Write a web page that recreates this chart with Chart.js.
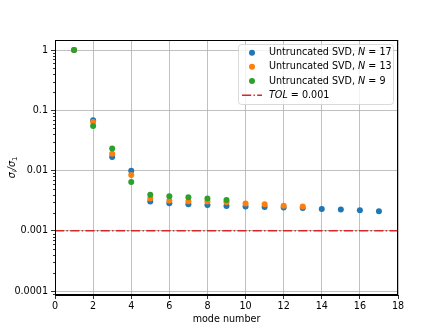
<!DOCTYPE html>
<html><head><meta charset="utf-8">
<script src="https://cdn.jsdelivr.net/npm/chart.js@4"></script>
<style>html,body{margin:0;padding:0;background:#fff}#wrap{width:443px;height:332px}</style>
</head><body><div id="wrap"><canvas id="c" width="443" height="332"></canvas></div>
<script>
const modeNumbers = [1,2,3,4,5,6,7,8,9,10,11,12,13,14,15,16,17];
const svdN17 = [1, 0.068, 0.0168, 0.0099, 0.00305, 0.00286, 0.00275, 0.00269, 0.00259, 0.00252, 0.00249, 0.00243, 0.0024, 0.00231, 0.00225, 0.00219, 0.00211];
const svdN13 = [1, 0.064, 0.019, 0.00845, 0.00342, 0.00317, 0.0031, 0.00305, 0.00297, 0.00283, 0.00275, 0.0026, 0.00252];
const svdN9  = [1, 0.055, 0.0233, 0.00646, 0.00398, 0.00373, 0.0036, 0.00342, 0.00325];
const tolValue = 0.001;
const tolXRange = [0, 18];
const seriesLabels = ['17', '13', '9'];
const yTickValues = [0.0001, 0.001, 0.01, 0.1, 1];
const yTickLabels = ['0.0001', '0.001', '0.01', '0.1', '1'];
const xTickValues = [0,2,4,6,8,10,12,14,16,18];

const COLORS = ['#1f77b4', '#ff7f0e', '#2ca02c'];
const RED = '#d62728';
const FONT = '"DejaVu Sans", sans-serif';
const FS = 9.6;
const DASH = [9.2, 2.3, 1.4, 2.3];

function pts(vals){ return vals.map((v,i)=>({x: modeNumbers[i], y: v})); }

const overlay = {
  id: 'overlay',
  afterDraw(chart){
    const ctx = chart.ctx, a = chart.chartArea, ys = chart.scales.y;
    ctx.save();
    // minor ticks on y
    ctx.strokeStyle = '#000'; ctx.lineWidth = 0.8;
    for (let e = -5; e <= 0; e++) {
      for (let m = 2; m <= 9; m++) {
        const v = m * Math.pow(10, e);
        if (v < ys.min || v > ys.max) continue;
        const y = Math.round(ys.getPixelForValue(v)) + 0.5;
        ctx.beginPath(); ctx.moveTo(a.left - 2, y); ctx.lineTo(a.left, y); ctx.stroke();
      }
    }
    // spines
    ctx.lineWidth = 1; ctx.strokeStyle = '#000';
    ctx.strokeRect(a.left + 0.5, a.top + 0.5, a.right - a.left - 1, a.bottom - a.top - 1);

    // legend
    const lx = 238, ly = 44, lw = 155, lh = 60, r = 3;
    ctx.globalAlpha = 0.8;
    ctx.fillStyle = '#fff';
    ctx.beginPath(); ctx.roundRect(lx + 0.5, ly + 0.5, lw, lh, r); ctx.fill();
    ctx.globalAlpha = 1;
    ctx.strokeStyle = '#d0d0d0'; ctx.lineWidth = 0.8;
    ctx.beginPath(); ctx.roundRect(lx + 0.5, ly + 0.5, lw, lh, r); ctx.stroke();

    const rows = [52.7, 66.7, 81, 95.3];
    ctx.textBaseline = 'middle';
    for (let i = 0; i < 3; i++) {
      ctx.fillStyle = COLORS[i];
      ctx.beginPath(); ctx.arc(252, rows[i], 3, 0, Math.PI*2); ctx.fill();
      let x = 269;
      ctx.fillStyle = '#000';
      ctx.font = FS + 'px ' + FONT;
      const t1 = 'Untruncated SVD, ';
      ctx.fillText(t1, x, rows[i]); x += ctx.measureText(t1).width;
      ctx.font = 'italic ' + FS + 'px ' + FONT;
      ctx.fillText('N', x, rows[i]); x += ctx.measureText('N').width;
      ctx.font = FS + 'px ' + FONT;
      const t2 = ' = ' + seriesLabels[i];
      ctx.fillText(t2, x, rows[i]);
    }
    ctx.strokeStyle = RED; ctx.lineWidth = 1.5; ctx.setLineDash(DASH);
    ctx.beginPath(); ctx.moveTo(242, rows[3]); ctx.lineTo(262, rows[3]); ctx.stroke();
    ctx.setLineDash([]);
    {
      let x = 269;
      ctx.fillStyle = '#000';
      ctx.font = 'italic ' + FS + 'px ' + FONT;
      ctx.fillText('TOL', x, rows[3]); x += ctx.measureText('TOL').width;
      ctx.font = FS + 'px ' + FONT;
      ctx.fillText(' = ' + tolValue, x, rows[3]);
    }

    // x title
    ctx.textAlign = 'center'; ctx.textBaseline = 'middle';
    ctx.font = FS + 'px ' + FONT;
    ctx.fillText('mode number', (a.left + a.right) / 2, 319.5);

    // y title (rotated)
    ctx.translate(11, (a.top + a.bottom) / 2);
    ctx.rotate(-Math.PI / 2);
    ctx.textAlign = 'left'; ctx.textBaseline = 'alphabetic';
    const parts = [
      ['italic ' + FS + 'px ' + FONT, 'σ', 0],
      ['italic ' + (FS*0.7) + 'px ' + FONT, 'i', 2],
      ['italic ' + FS + 'px ' + FONT, '/σ', 0],
      [(FS*0.7) + 'px ' + FONT, '1', 2]
    ];
    let tw = 0;
    parts.forEach(p => { ctx.font = p[0]; tw += ctx.measureText(p[1]).width; });
    let x = -tw / 2;
    parts.forEach(p => { ctx.font = p[0]; ctx.fillText(p[1], x, 3.5 + p[2]); x += ctx.measureText(p[1]).width; });
    ctx.restore();
  }
};

new Chart(document.getElementById('c'), {
  type: 'scatter',
  data: {
    datasets: [
      { label: 'N17', data: pts(svdN17), backgroundColor: COLORS[0], borderColor: COLORS[0], pointRadius: 3, pointBorderWidth: 0, order: 3 },
      { label: 'N13', data: pts(svdN13), backgroundColor: COLORS[1], borderColor: COLORS[1], pointRadius: 3, pointBorderWidth: 0, order: 2 },
      { label: 'N9', data: pts(svdN9), backgroundColor: COLORS[2], borderColor: COLORS[2], pointRadius: 3, pointBorderWidth: 0, order: 1 },
      { label: 'TOL', data: tolXRange.map(x => ({x, y: tolValue})), showLine: true, borderColor: RED, borderWidth: 1.5, borderDash: DASH, pointRadius: 0, order: 0 }
    ]
  },
  options: {
    responsive: false, animation: false, devicePixelRatio: 1,
    layout: { padding: { left: 0, top: 40, right: 45, bottom: 0 } },
    plugins: { legend: { display: false }, tooltip: { enabled: false } },
    scales: {
      x: {
        type: 'linear', min: 0, max: 18,
        afterBuildTicks: s => { s.ticks = xTickValues.map(v => ({value: v})); },
        afterFit: s => { s.height = 37; },
        grid: { color: '#b0b0b0', lineWidth: 0.8, tickColor: '#000', tickLength: 4, drawTicks: true },
        border: { display: true, color: '#000', width: 1 },
        ticks: { color: '#000', font: { family: FONT, size: FS }, padding: 2, maxRotation: 0, autoSkip: false }
      },
      y: {
        type: 'logarithmic', min: 8.6e-5, max: 1.466,
        afterBuildTicks: s => { s.ticks = yTickValues.map(v => ({value: v})); },
        afterFit: s => { s.width = 55; },
        grid: { color: '#b0b0b0', lineWidth: 0.8, tickColor: '#000', tickLength: 4, drawTicks: true },
        border: { display: true, color: '#000', width: 1 },
        ticks: { color: '#000', font: { family: FONT, size: FS }, padding: 3, autoSkip: false,
          callback: (v) => { const i = yTickValues.findIndex(t => Math.abs(Math.log10(t) - Math.log10(v)) < 1e-6); return i >= 0 ? yTickLabels[i] : ''; } }
      }
    }
  },
  plugins: [overlay]
});
</script>
</body></html>
